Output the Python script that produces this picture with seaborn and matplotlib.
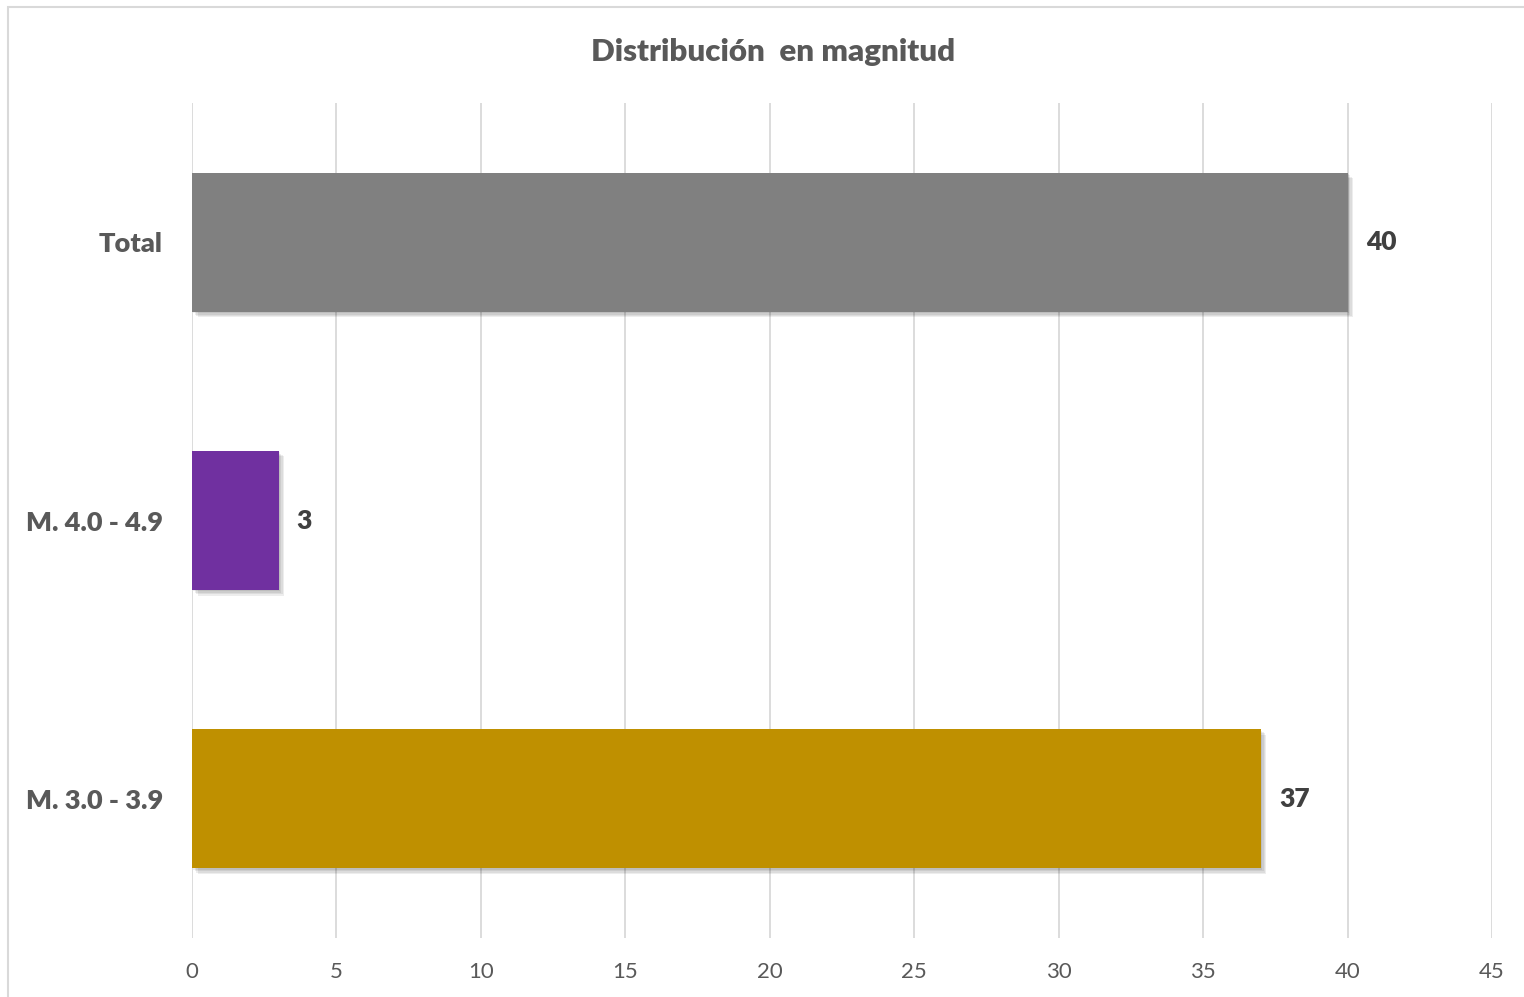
import seaborn as sns
import matplotlib.pyplot as plt
import matplotlib.patheffects as pe
from matplotlib.patches import Rectangle
import pandas as pd

categories = ['Total', 'M. 4.0 - 4.9', 'M. 3.0 - 3.9']
counts = [40, 3, 37]
colors = ['#808080', '#7030A0', '#BF9000']
xticks = [0, 5, 10, 15, 20, 25, 30, 35, 40, 45]

df = pd.DataFrame({'cat': categories, 'n': counts})

sns.set_style('white')
plt.rcParams['font.family'] = ['Lato', 'DejaVu Sans']

fig = plt.figure(figsize=(15.24, 9.97), dpi=100)
ax = fig.add_axes([192 / 1524, 1 - 938 / 997, 1300 / 1524, 835 / 997])

sns.barplot(data=df, x='n', y='cat', hue='cat', palette=colors, order=categories,
            width=0.5, legend=False, ax=ax, saturation=1)

# soft drop shadow, built from a few faint offset copies
shadow = [pe.SimplePatchShadow(offset=(k, -k), shadow_rgbFace='k', alpha=0.07) for k in (4, 3, 2, 1)]
for p in ax.patches:
    p.set_linewidth(0)
    p.set_path_effects(shadow + [pe.Normal()])

for c in ax.containers:
    ax.bar_label(c, padding=13, fontsize=19, fontweight='heavy', color='#404040')

ax.set_xlim(0, 45)
ax.set_ylim(2.5, -0.5)
ax.set_xticks(xticks)
ax.grid(axis='x', color='#D9D9D9', lw=1.3)
ax.set_axisbelow(True)
sns.despine(ax=ax, left=True, bottom=True)
ax.set_xlabel('')
ax.set_ylabel('')
ax.tick_params(axis='x', length=0, pad=17, labelsize=16, labelcolor='#595959')
ax.tick_params(axis='y', length=0, pad=21, labelsize=19.5, labelcolor='#595959')
for t in ax.get_yticklabels():
    t.set_fontweight('heavy')

fig.text(0.507, 1 - 52 / 997, 'Distribución  en magnitud', ha='center', va='center',
         fontsize=22.5, fontweight='heavy', color='#595959')

fig.patches.append(Rectangle((8 / 1524, -0.05), 1.2, 1 - 7 / 997 + 0.05, transform=fig.transFigure,
                             fill=False, edgecolor='#D9D9D9', lw=1.5))

fig.savefig('out.png', dpi=100)
